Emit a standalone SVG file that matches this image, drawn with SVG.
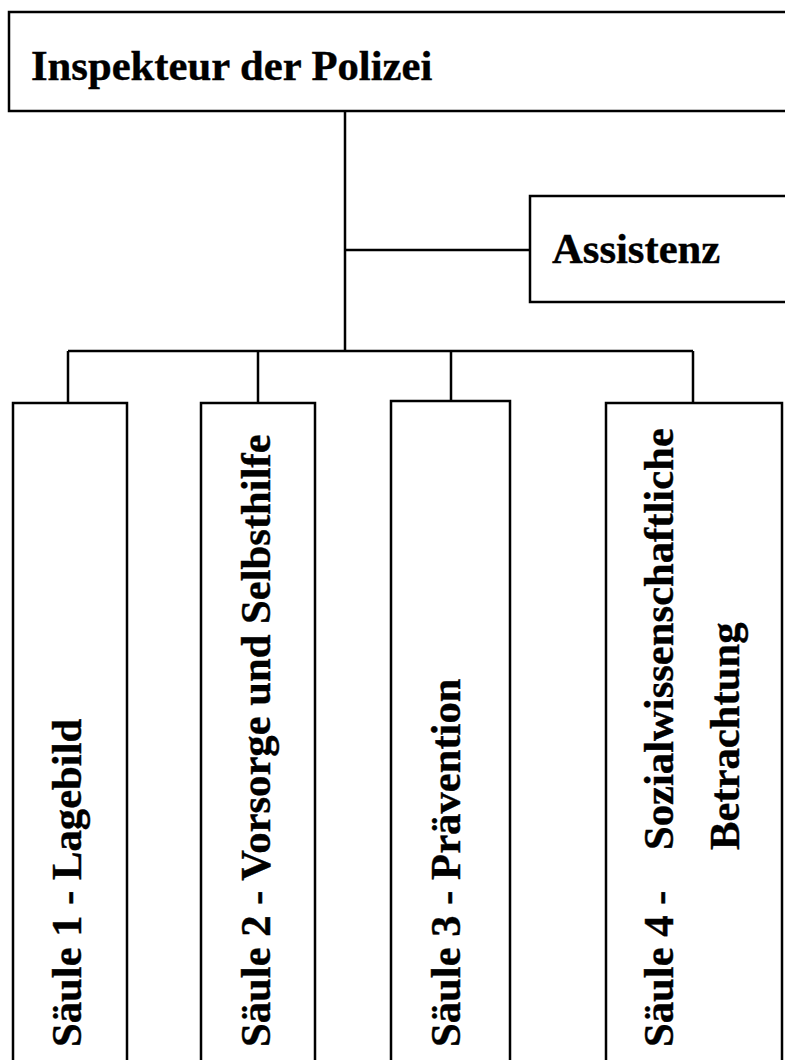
<svg xmlns="http://www.w3.org/2000/svg" width="785" height="1060" viewBox="0 0 785 1060">
<style>
.box{fill:#fff;stroke:#000;stroke-width:2.5}
.con{fill:none;stroke:#000;stroke-width:2.5}
.t{font-family:"Liberation Serif","Times New Roman",serif;font-weight:bold;font-size:42.67px;fill:#000;stroke:#000;stroke-width:0.4}
</style>
<rect width="785" height="1060" fill="#fff"/>
<g id="connectors">
<path class="con" d="M345 111 V351 M345 250 H530 M68 351 H693 M68 351 V403 M258 351 V403 M451 351 V401 M693 351 V403"/>
</g>
<g id="node-inspekteur">
<rect class="box" x="9" y="12" width="800" height="99"/>
<text class="t" x="31" y="80">Inspekteur der Polizei</text>
</g>
<g id="node-assistenz">
<rect class="box" x="530" y="196" width="280" height="106"/>
<text class="t" x="552" y="263">Assistenz</text>
</g>
<g id="node-saeule1">
<rect class="box" x="13" y="403" width="114" height="680"/>
<text class="t" transform="translate(81,1047) rotate(-90)">Säule 1 - Lagebild</text>
</g>
<g id="node-saeule2">
<rect class="box" x="201" y="403" width="114" height="680"/>
<text class="t" transform="translate(270,1047) rotate(-90)">Säule 2 - Vorsorge und Selbsthilfe</text>
</g>
<g id="node-saeule3">
<rect class="box" x="391" y="401" width="119" height="680"/>
<text class="t" transform="translate(460,1047) rotate(-90)">Säule 3 - Prävention</text>
</g>
<g id="node-saeule4">
<rect class="box" x="606" y="403" width="176" height="680"/>
<text class="t" transform="translate(673,1047) rotate(-90)">Säule 4 -<tspan x="197">Sozialwissenschaftliche</tspan></text>
<text class="t" transform="translate(739,850) rotate(-90)">Betrachtung</text>
</g>
</svg>
